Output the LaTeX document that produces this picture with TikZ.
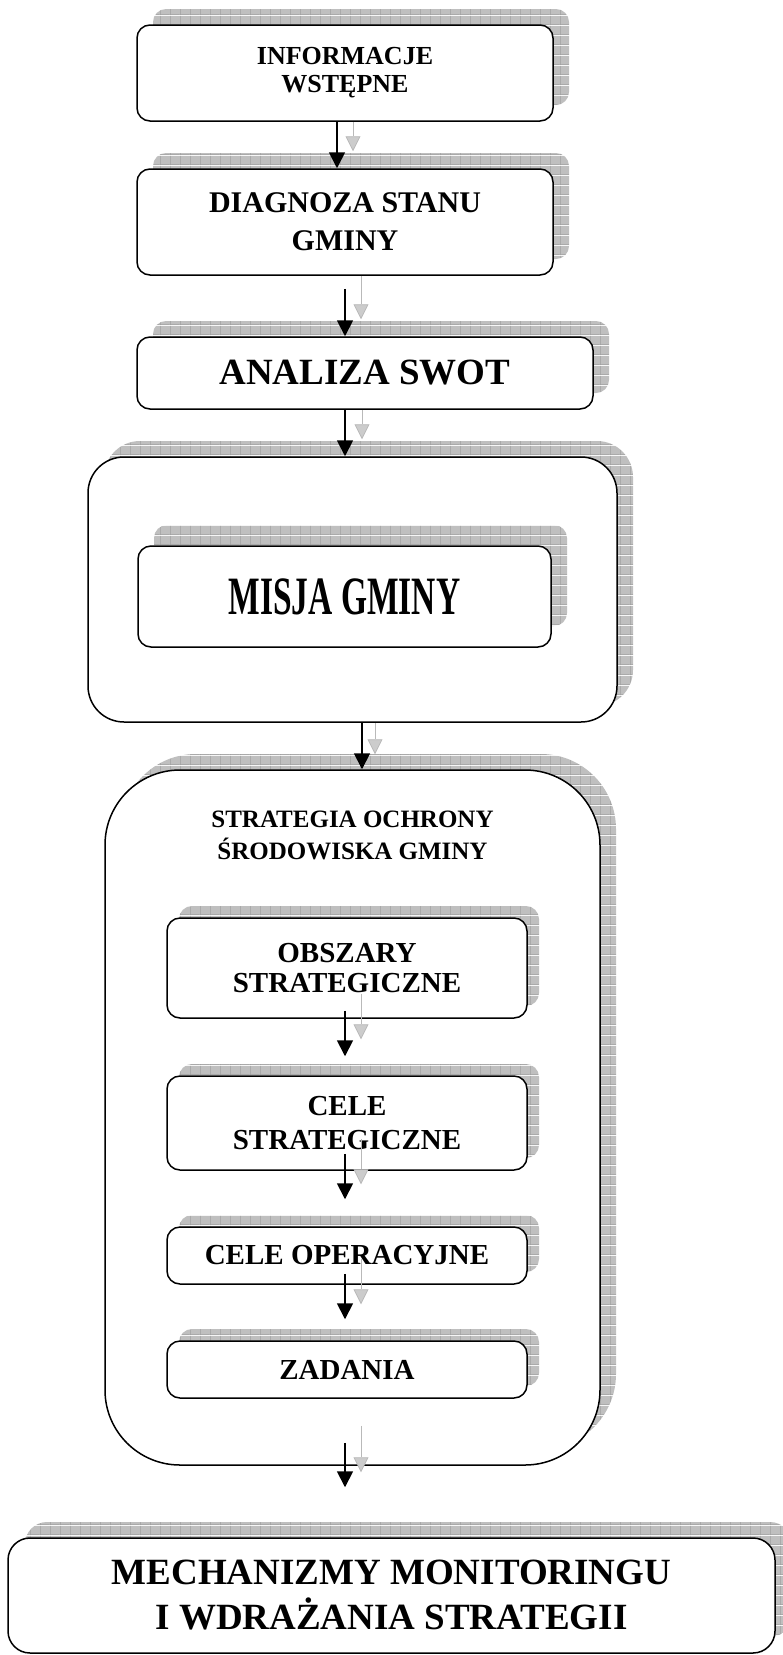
\documentclass[tikz,border=0pt]{standalone}
\usepackage{fontspec}
\setmainfont{Liberation Serif}
\usepackage{graphicx}
\usetikzlibrary{arrows.meta, positioning, calc, shadows, patterns}

% grey grid used for the box shadows
\pgfdeclarepatterninherentlycolored{shadowgrid}{\pgfqpoint{0pt}{0pt}}{\pgfqpoint{10pt}{10pt}}{\pgfqpoint{10pt}{10pt}}{%
  \pgfsetfillcolor{gray!50}%
  \pgfpathrectangle{\pgfqpoint{0pt}{0pt}}{\pgfqpoint{10pt}{10pt}}%
  \pgfusepath{fill}%
  \pgfsetstrokecolor{gray!75}%
  \pgfsetlinewidth{0.6pt}%
  \pgfpathmoveto{\pgfqpoint{0pt}{0.3pt}}\pgfpathlineto{\pgfqpoint{10pt}{0.3pt}}%
  \pgfpathmoveto{\pgfqpoint{0.3pt}{0pt}}\pgfpathlineto{\pgfqpoint{0.3pt}{10pt}}%
  \pgfusepath{stroke}%
}

\begin{document}
\begin{tikzpicture}[x=1pt, y=-1pt,
        box/.style={draw, line width=1.5pt, fill=white, rounded corners=13pt, align=center, inner sep=0pt},
        outshadow/.style={general shadow={shadow xshift=16pt, shadow yshift=16pt, pattern=shadowgrid}},
        inshadow/.style={general shadow={shadow xshift=12pt, shadow yshift=12pt, pattern=shadowgrid}},
        arrow/.style={-{Triangle[width=16pt,length=16pt]}, line width=1.8pt},
        ghost/.style={-{Triangle[width=15pt,length=15pt,fill=gray!40]}, line width=0.8pt, draw=gray!55}
    ]
    \useasboundingbox (0,0) rectangle (782,1655);

    % Introduction and diagnosis
    \node[box, outshadow, minimum width=416pt, minimum height=96pt, font=\bfseries\fontsize{26}{28}\selectfont] (info) at (345,73) {INFORMACJE\\WSTĘPNE};
    \node[box, outshadow, minimum width=416pt, minimum height=106pt, font=\bfseries\fontsize{30}{38}\selectfont] (diag) at (345,222) {DIAGNOZA STANU\\GMINY};
    \node[box, outshadow, minimum width=456pt, minimum height=72pt, font=\bfseries\fontsize{37}{40}\selectfont] (swot) at (365,373) {ANALIZA SWOT};

    % Mission
    \node[box, outshadow, rounded corners=36pt, minimum width=529pt, minimum height=265pt] (missionframe) at (352.5,589.5) {};
    \node[box, general shadow={shadow xshift=16pt, shadow yshift=21pt, pattern=shadowgrid}, minimum width=413pt, minimum height=101pt, font=\bfseries\fontsize{54}{54}\selectfont] (mission) at (344.5,596.5) {\scalebox{0.62}[1]{MISJA GMINY}};

    % Strategy
    \node[box, outshadow, rounded corners=75pt, minimum width=495pt, minimum height=695pt] (strategy) at (352.5,1117.5) {};
    \node[align=center, font=\bfseries\fontsize{25}{32}\selectfont] (strategytitle) at (352.5,835) {STRATEGIA OCHRONY\\ŚRODOWISKA GMINY};
    \node[box, inshadow, minimum width=360pt, minimum height=100pt, font=\bfseries\fontsize{29}{30}\selectfont] (areas) at (347,968) {OBSZARY\\STRATEGICZNE};
    \node[box, inshadow, minimum width=360pt, minimum height=94pt, font=\bfseries\fontsize{29}{34}\selectfont] (goals) at (347,1123) {CELE\\STRATEGICZNE};
    \node[box, inshadow, minimum width=360pt, minimum height=57pt, font=\bfseries\fontsize{29}{32}\selectfont] (opgoals) at (347,1255.5) {CELE OPERACYJNE};
    \node[box, inshadow, minimum width=360pt, minimum height=57pt, font=\bfseries\fontsize{29}{32}\selectfont] (tasks) at (347,1369.5) {ZADANIA};

    % Monitoring
    \node[box, general shadow={shadow xshift=17pt, shadow yshift=16pt, pattern=shadowgrid}, rounded corners=22pt, minimum width=767pt, minimum height=115pt, font=\bfseries\fontsize{37}{45}\selectfont] (monitor) at (391.5,1595.5) {MECHANIZMY MONITORINGU\\I WDRAŻANIA STRATEGII};

    % Arrows
    \draw[ghost] ($(info.south)+(8,0)$) -- ($(diag.north)+(8,-17)$);
    \draw[arrow] ($(info.south)+(-8,0)$) -- ($(diag.north)+(-8,0)$);
    \draw[ghost] ($(diag.south)+(16,0)$) -- ($(diag.south |- swot.north)+(16,-17)$);
    \draw[arrow] ($(diag.south)+(0,13)$) -- (diag.south |- swot.north);
    \draw[ghost] ($(swot.south)+(-3,0)$) -- ($(swot.south |- missionframe.north)+(-3,-17)$);
    \draw[arrow] ($(swot.south)+(-20,0)$) -- ($(swot.south |- missionframe.north)+(-20,0)$);
    \draw[ghost] ($(missionframe.south)+(22.5,0)$) -- ($(strategy.north)+(22.5,-15)$);
    \draw[arrow] ($(missionframe.south)+(9.5,0)$) -- ($(strategy.north)+(9.5,0)$);
    \draw[ghost] ($(areas.south)+(14,-25)$) -- ($(goals.north)+(14,-36)$);
    \draw[arrow] ($(areas.south)+(-2,-8)$) -- ($(goals.north)+(-2,-19)$);
    \draw[ghost] ($(goals.south)+(14,-32)$) -- ($(opgoals.north)+(14,-42)$);
    \draw[arrow] ($(goals.south)+(-2,-17)$) -- ($(opgoals.north)+(-2,-27)$);
    \draw[ghost] ($(opgoals.south)+(14,-26)$) -- ($(tasks.north)+(14,-36)$);
    \draw[arrow] ($(opgoals.south)+(-2,-11)$) -- ($(tasks.north)+(-2,-21)$);
    \draw[ghost] ($(strategy.south)+(8.5,-40)$) -- ($(strategy.south |- monitor.north)+(8.5,-65)$);
    \draw[arrow] ($(strategy.south)+(-7.5,-23)$) -- ($(strategy.south |- monitor.north)+(-7.5,-50)$);

\end{tikzpicture}
\end{document}
